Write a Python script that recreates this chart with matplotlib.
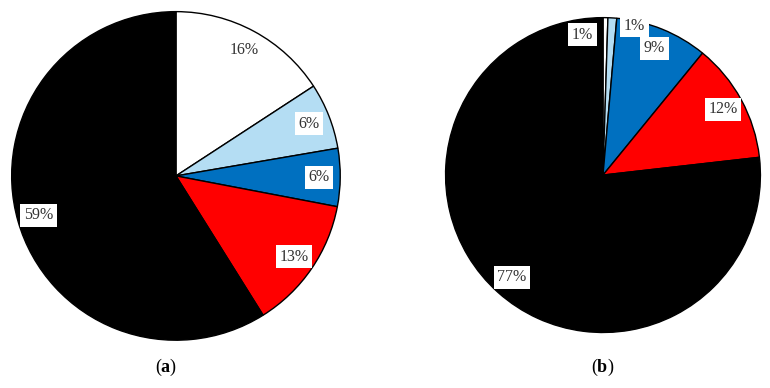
import matplotlib.pyplot as plt

plt.rcParams["font.family"] = ["Liberation Serif", "DejaVu Serif"]
plt.rcParams["mathtext.fontset"] = "custom"
plt.rcParams["mathtext.rm"] = "Liberation Serif"
plt.rcParams["mathtext.bf"] = "Liberation Serif:bold"

# Datos (porcentajes), orden: blanco, celeste, azul, rojo, negro
colors = ["#ffffff", "#b4ddf3", "#0070c0", "#ff0000", "#000000"]

vals_a = [15.8, 6.5, 5.7, 13.1, 58.9]
labels_a = ["16%", "6%", "6%", "13%", "59%"]

vals_b = [0.5, 0.9, 9.5, 12.3, 76.8]
labels_b = ["1%", "1%", "9%", "12%", "77%"]

fig = plt.figure(figsize=(7.7, 3.88), dpi=100)

def draw_pie(rect, vals, labels):
    ax = fig.add_axes(rect)
    wedges, texts = ax.pie(vals, labels=labels, colors=colors, startangle=90,
                           counterclock=False, labeldistance=0.87,
                           wedgeprops=dict(edgecolor="black", linewidth=1.0),
                           textprops=dict(fontsize=11.5, color="#333333",
                                          ha="center", va="center"))
    for t in texts:
        t.set_bbox(dict(facecolor="white", edgecolor="none", pad=2.5))
    ax.set_xlim(-1.01, 1.01)
    ax.set_ylim(-1.01, 1.01)
    return ax, texts

ax1, t1 = draw_pie([0.013, 0.1186, 0.431, 0.856], vals_a, labels_a)
ax2, t2 = draw_pie([0.5766, 0.139, 0.413, 0.8196], vals_b, labels_b)

# etiquetas de los sectores pequeños desplazadas a mano
t2[0].set_position((-0.13, 0.89))
t2[1].set_position((0.2, 0.95))

fig.text(166 / 770, 1 - 367 / 388, r"($\mathbf{a}$)", ha="center", va="center", fontsize=13)
fig.text(603 / 770, 1 - 367 / 388, r"($\mathbf{b}$)", ha="center", va="center", fontsize=13)

fig.savefig("out.png", dpi=100)
